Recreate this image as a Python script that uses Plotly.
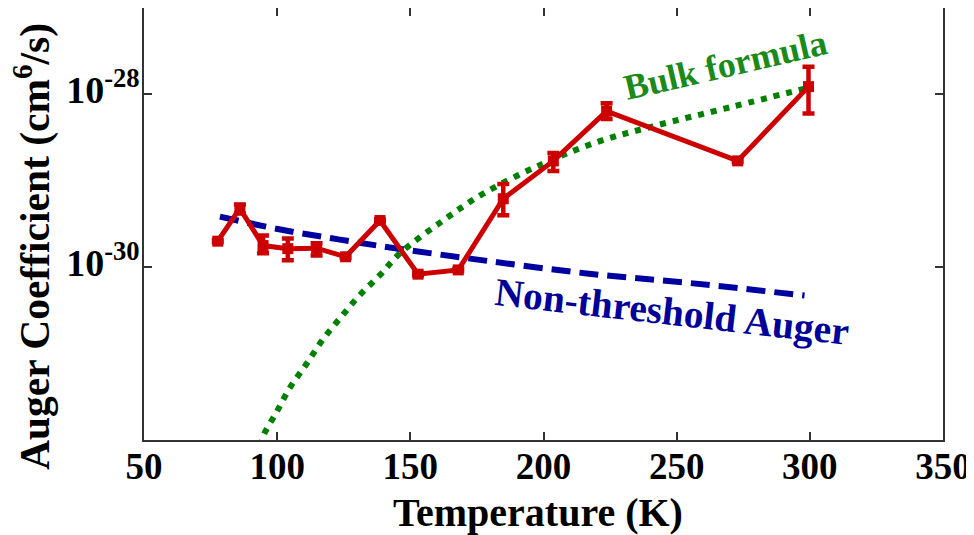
import plotly.graph_objects as go

# Measured Auger coefficient (red)
temp_meas = [77.7, 86.0, 94.7, 104.0, 114.8, 125.7, 138.6, 152.9, 168.0, 184.9, 203.7, 223.7, 272.9, 299.5]
auger_meas = [2.0e-30, 4.8e-30, 1.78e-30, 1.64e-30, 1.66e-30, 1.32e-30, 3.47e-30, 8.3e-31, 9.3e-31,
              6.2e-30, 1.70e-29, 6.4e-29, 1.70e-29, 1.23e-28]
err_plus = [0.05e-30, 0.5e-30, 0.55e-30, 0.51e-30, 0.23e-30, 0.04e-30, 0.1e-30, 0.03e-30, 0.03e-30,
            3.0e-30, 0.4e-29, 1.5e-29, 0.05e-29, 0.86e-28]
err_minus = [0.05e-30, 0.63e-30, 0.33e-30, 0.44e-30, 0.29e-30, 0.04e-30, 0.1e-30, 0.03e-30, 0.03e-30,
             2.2e-30, 0.4e-29, 1.2e-29, 0.05e-29, 0.63e-28]

# Non-threshold Auger (blue dashed)
temp_nt = [78.5, 101.7, 123.0, 143.6, 177.4, 216.2, 256.2, 298.0]
auger_nt = [3.85e-30, 2.71e-30, 2.10e-30, 1.67e-30, 1.20e-30, 8.47e-31, 6.50e-31, 4.70e-31]

# Bulk formula (green dotted)
temp_bulk = [93.8, 94.8, 99.8, 105.1, 111.1, 117.1, 123.9, 130.8, 138.6, 146.1, 162.3, 177.3,
             199.8, 221.2, 241.1, 271.2, 298.2]
auger_bulk = [8.5e-33, 1.12e-32, 2.11e-32, 4.17e-32, 7.67e-32, 1.45e-31, 2.63e-31, 4.68e-31, 8.13e-31,
              1.45e-30, 3.47e-30, 7.08e-30, 1.58e-29, 2.88e-29, 4.27e-29, 7.24e-29, 1.17e-28]

x_ticks = [50, 100, 150, 200, 250, 300, 350]
y_ticks = [1e-30, 1e-28]
y_ticktext = ["<b>10<sup>-30</sup></b>", "<b>10<sup>-28</sup></b>"]

# label positions (temperature, log10 coefficient)
bulk_label_pos = (268.5, -27.66)
nt_label_pos = (248.2, -30.52)

RED = "#CC0000"
BLUE = "#0000A0"
GREEN = "#008000"
FONT = "Liberation Serif"

# page body adds an 8px offset; figure is sized so the plot box lands at x 144-943, y 8-440
W, H = 966, 527
ML, MR, MT, MB = 136, 31, 0, 95
PW, PH = W - ML - MR, H - MT - MB

fig = go.Figure()
fig.add_trace(go.Scatter(x=temp_bulk, y=auger_bulk, mode="lines", line_shape="spline",
                         line=dict(color=GREEN, width=6, dash="6px,7px"), showlegend=False))
fig.add_trace(go.Scatter(x=temp_nt, y=auger_nt, mode="lines", line_shape="spline",
                         line=dict(color=BLUE, width=6, dash="19px,9px"), showlegend=False))
fig.add_trace(go.Scatter(x=temp_meas, y=auger_meas, mode="lines+markers",
                         line=dict(color=RED, width=5),
                         marker=dict(symbol="square", size=11, color=RED),
                         error_y=dict(type="data", array=err_plus, arrayminus=err_minus,
                                      color=RED, thickness=4.5, width=6, visible=True),
                         showlegend=False))

fig.add_annotation(x=bulk_label_pos[0], y=bulk_label_pos[1], xref="x", yref="y",
                   text="<b>Bulk formula</b>", showarrow=False, textangle=-13,
                   xanchor="center", yanchor="middle",
                   font=dict(family=FONT, size=36, color="#1A8A1A"))
fig.add_annotation(x=nt_label_pos[0], y=nt_label_pos[1], xref="x", yref="y",
                   text="<b>Non-threshold Auger</b>", showarrow=False, textangle=6.5,
                   xanchor="center", yanchor="middle",
                   font=dict(family=FONT, size=39.5, color="#000099"))

# axis titles as annotations (pixel centres in the page: y-title (33, 247), x-title (538, 513))
fig.add_annotation(xref="paper", yref="paper", x=(33 - 144) / PW, y=1 - (247 - 8) / PH,
                   text="<b>Auger Coefficient (cm<sup>6</sup>/s)</b>", showarrow=False,
                   textangle=-90, xanchor="center", yanchor="middle",
                   font=dict(family=FONT, size=41.5, color="black"))
fig.add_annotation(xref="paper", yref="paper", x=(538 - 144) / PW, y=1 - (513 - 8) / PH,
                   text="<b>Temperature (K)</b>", showarrow=False,
                   xanchor="center", yanchor="middle",
                   font=dict(family=FONT, size=40, color="black"))

axis_common = dict(showline=True, linecolor="#333333", linewidth=1.5, mirror="ticks",
                   ticks="inside", ticklen=8, tickcolor="#333333", tickwidth=1.5,
                   showgrid=False, zeroline=False, automargin=False, ticklabeloverflow="allow")

fig.update_xaxes(range=[50, 350], tickvals=x_ticks, ticktext=["<b>%d</b>" % v for v in x_ticks],
                 tickfont=dict(family=FONT, size=37, color="black"), ticklabelstandoff=-7,
                 **axis_common)
fig.update_yaxes(type="log", range=[-32, -27], tickvals=y_ticks, ticktext=y_ticktext,
                 tickfont=dict(family=FONT, size=38, color="black"), ticklabelstandoff=-5,
                 ticklabelshift=-5, **axis_common)

fig.update_layout(width=W, height=H, margin=dict(l=ML, r=MR, t=MT, b=MB),
                  plot_bgcolor="white", paper_bgcolor="white")

fig.write_html("out.html")
